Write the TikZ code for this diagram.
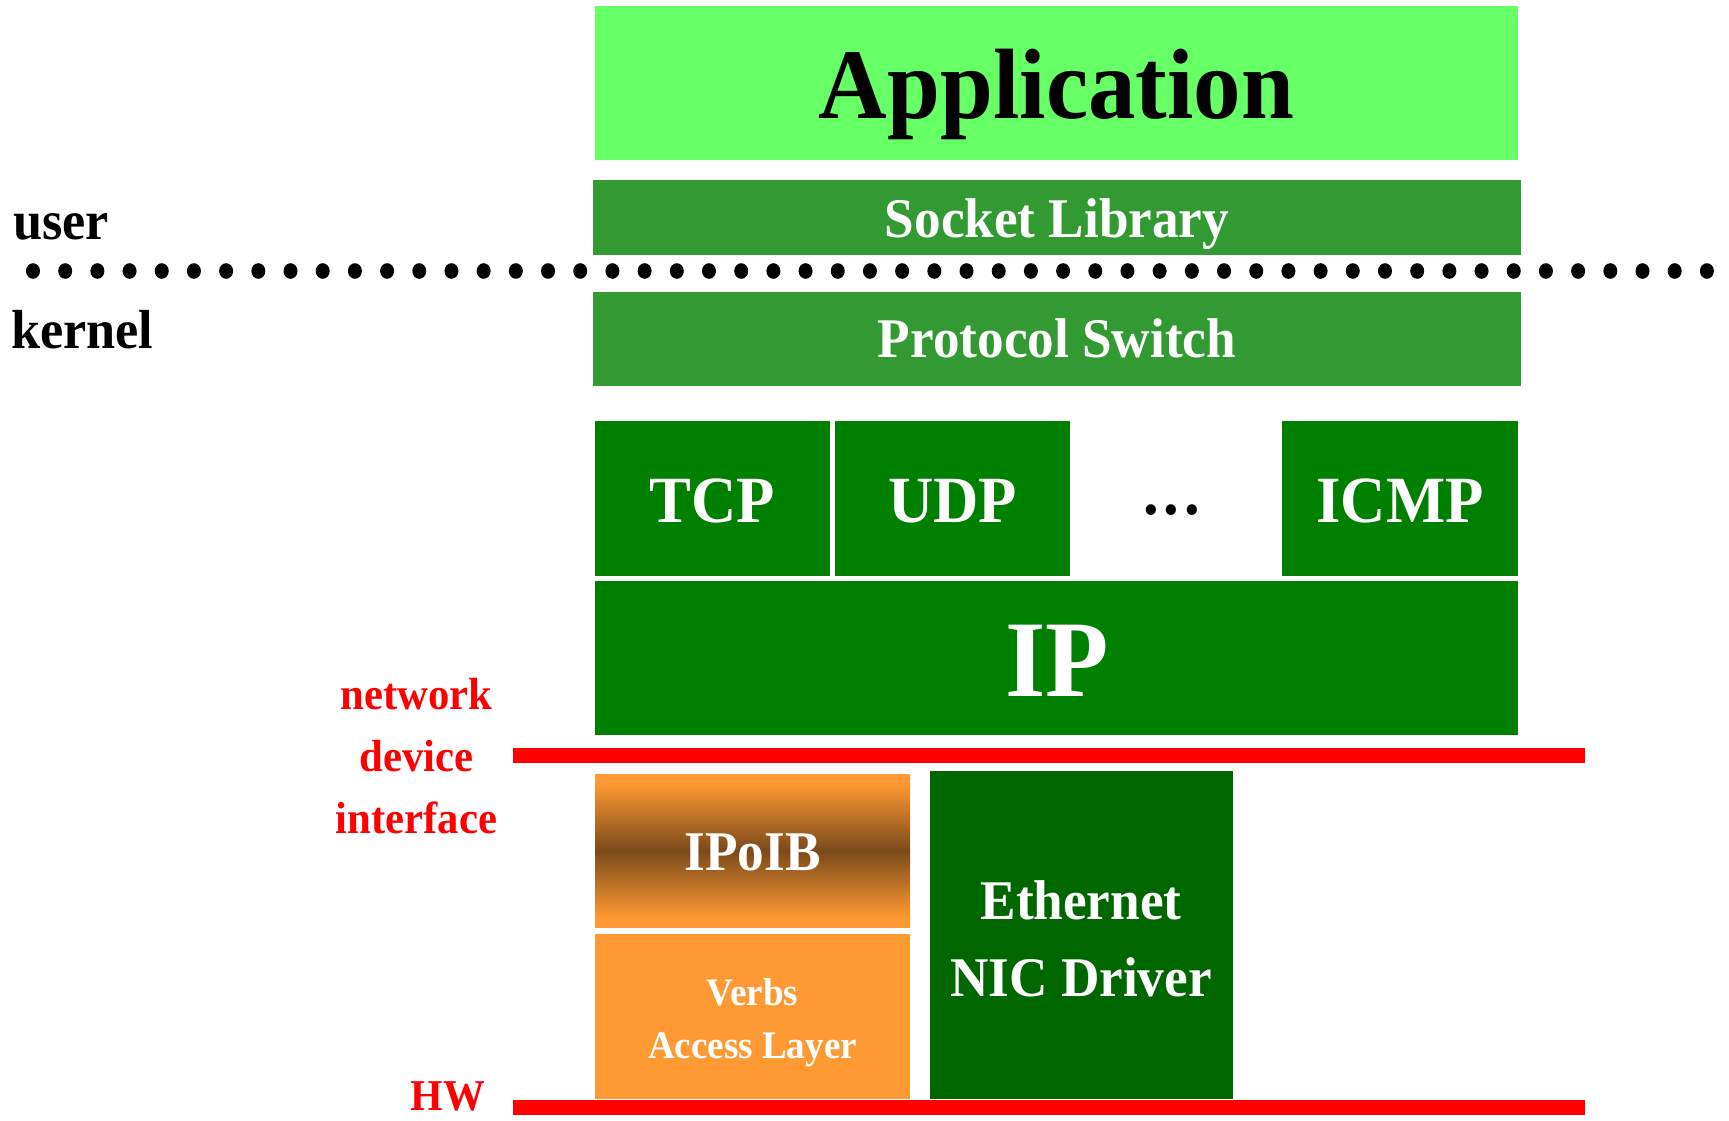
\documentclass[tikz,border=0pt]{standalone}
\usepackage{fontspec}
\setmainfont{Liberation Serif}[FakeStretch=0.95]
\definecolor{appg}{RGB}{102,255,102}
\definecolor{midg}{RGB}{51,153,51}
\definecolor{protog}{RGB}{0,128,0}
\definecolor{ethg}{RGB}{0,102,0}
\definecolor{ora}{RGB}{255,153,51}
\definecolor{brn}{RGB}{122,74,26}
\definecolor{redl}{RGB}{255,0,0}
\pgfdeclareverticalshading{ipoibsh}{100bp}{color(0bp)=(ora); color(25bp)=(ora); color(28bp)=(ora); color(50bp)=(brn); color(72bp)=(ora); color(75bp)=(ora); color(100bp)=(ora)}
\newcommand\fs[1]{\fontsize{#1}{#1}\selectfont\bfseries}
\tikzset{
  box/.style={draw=none, inner sep=0pt, outer sep=0pt, anchor=north west},
  lbl/.style={inner sep=0pt, outer sep=0pt, anchor=base},
  wlbl/.style={lbl, text=white},
  rlbl/.style={lbl, text=redl},
  redline/.style={draw=redl, line width=15pt},
}
\begin{document}
\begin{tikzpicture}[x=1pt,y=-1pt]
\useasboundingbox (0,0) rectangle (1729,1120);
% boxes
\node[box, fill=appg, minimum width=923pt, minimum height=154.5pt] (app) at (595,5.5) {};
\node[box, fill=midg, minimum width=928pt, minimum height=75pt] (sock) at (593,180) {};
\node[box, fill=midg, minimum width=928pt, minimum height=94pt] (proto) at (593,292) {};
\node[box, fill=protog, minimum width=235pt, minimum height=155pt] (tcp) at (595,421) {};
\node[box, fill=protog, minimum width=235pt, minimum height=155pt] (udp) at (835,421) {};
\node[box, fill=protog, minimum width=236pt, minimum height=155pt] (icmp) at (1282,421) {};
\node[box, fill=protog, minimum width=923pt, minimum height=154pt] (ip) at (595,581) {};
\node[box, shading=ipoibsh, minimum width=315pt, minimum height=153pt] (ipoib) at (595,774) {};
\node[box, fill=ora, minimum width=315pt, minimum height=165pt] (verbs) at (595,934) {};
\node[box, fill=ethg, minimum width=303pt, minimum height=328pt] (eth) at (930,771) {};
% texts
\node[lbl] (tapp) at (1056.5,118) {\fs{100}Application};
\node[wlbl] (tsock) at (1057,237) {\fs{56}Socket Library};
\node[wlbl] (tproto) at (1057,357) {\fs{56}Protocol Switch};
\node[wlbl] (ttcp) at (712.5,522) {\fs{66}TCP};
\node[wlbl] (tudp) at (952.5,522) {\fs{66}UDP};
\node[wlbl] (ticmp) at (1400,522) {\fs{66}ICMP};
\node[lbl] (tdots) at (1171.5,514) {\fs{66}.\kern5pt.\kern5pt.};
\node[wlbl] (tip) at (1057,696) {\fs{109}IP};
\node[wlbl] (tipoib) at (752.5,870) {\fs{56}IPoIB};
\node[wlbl] (tverbs) at (752.5,1005) {\fs{39}Verbs};
\node[wlbl] (tacc) at (752.5,1058) {\fs{39}Access Layer};
\node[wlbl] (teth) at (1081,919) {\fs{56}Ethernet};
\node[wlbl] (tnic) at (1081,996) {\fs{56}NIC Driver};
\node[lbl, anchor=base west] (tuser) at (13,239) {\fs{55}user};
\node[lbl, anchor=base west] (tkern) at (11,348) {\fs{55}kernel};
\node[rlbl] (tnet) at (416.5,709) {\fs{45}network};
\node[rlbl] (tdev) at (416.5,771) {\fs{45}device};
\node[rlbl] (tif) at (416.5,833) {\fs{45}interface};
\node[rlbl, text depth=0pt] (thw) at (448,1110) {\fs{44}HW};
% red lines
\coordinate (r1a) at (513,755);
\coordinate (r1b) at (1585,755);
\coordinate (r2a) at (513,1107);
\coordinate (r2b) at (1585,1107);
\draw[redline] (r1a) -- (r1b);
\draw[redline] (r2a) -- (r2b);
% dotted user/kernel boundary
\foreach \i in {0,...,52} {
  \fill[black] (33+\i*32.19,271) ellipse [x radius=7pt, y radius=7.8pt];
}
\end{tikzpicture}
\end{document}
